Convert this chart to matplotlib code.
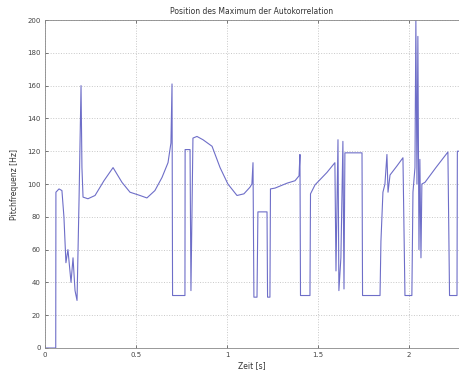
import matplotlib
matplotlib.use("Agg")
import matplotlib.pyplot as plt

title = "Position des Maximum der Autokorrelation"
xlabel = "Zeit [s]"
ylabel = "Pitchfrequenz [Hz]"

time_s = [0.000, 0.059, 0.060, 0.077, 0.093, 0.104, 0.115, 0.126, 0.143, 0.154,
          0.165, 0.176, 0.187, 0.198, 0.203, 0.209, 0.236, 0.275, 0.324, 0.374,
          0.423, 0.467, 0.522, 0.560, 0.604, 0.643, 0.676, 0.692, 0.698, 0.701,
          0.769, 0.770, 0.797, 0.802, 0.813, 0.835, 0.868, 0.918, 0.962, 1.005,
          1.055, 1.093, 1.126, 1.137, 1.143, 1.148, 1.165, 1.170, 1.220, 1.223,
          1.236, 1.239, 1.264, 1.330, 1.374, 1.396, 1.401, 1.404, 1.456, 1.459,
          1.484, 1.549, 1.593, 1.599, 1.610, 1.615, 1.626, 1.637, 1.643, 1.648,
          1.742, 1.745, 1.841, 1.846, 1.857, 1.868, 1.879, 1.885, 1.896, 1.934,
          1.967, 1.978, 2.016, 2.022, 2.033, 2.038, 2.044, 2.049, 2.055, 2.060,
          2.066, 2.071, 2.088, 2.148, 2.214, 2.223, 2.264, 2.266, 2.280]
pitch_hz = [0, 0, 95, 97, 96, 80, 52, 60, 40, 55,
            35, 29, 90, 160, 110, 92, 91, 93, 102, 110,
            101, 95, 93, 91.5, 96, 104, 113, 125, 161, 32,
            32, 121, 121, 35, 128, 129, 127, 123, 110, 100,
            93, 94, 98, 100, 113, 31, 31, 83, 83, 31,
            31, 97, 97.5, 100.5, 102, 105, 118, 32, 32, 94,
            99.5, 107, 113, 47, 127, 35, 55, 126, 36, 119,
            119, 32, 32, 65, 95, 100, 118, 95, 105.5, 111,
            116, 32, 32, 95, 110, 200, 100, 190, 60, 115,
            55, 100, 101, 110, 119.5, 32, 32, 120, 120]

xticks = [0, 0.5, 1, 1.5, 2]
xtick_labels = ["0", "0.5", "1", "1.5", "2"]
yticks = list(range(0, 201, 20))

fig = plt.figure(figsize=(4.59, 3.78), dpi=100)
ax = fig.add_axes([45/459, 30/378, 414/459, 328/378])
ax.plot(time_s, pitch_hz, color="#6e6ec8", lw=0.8)
ax.set_xlim(0, 2.275)
ax.set_ylim(0, 200)
ax.set_xticks(xticks)
ax.set_xticklabels(xtick_labels)
ax.set_yticks(yticks)
ax.grid(True, color="#c8c8c8", linestyle=":", linewidth=0.7)
ax.tick_params(labelsize=5, colors="#444444", length=2.5, width=0.5, direction="in",
               top=True, pad=3)
for s in ax.spines.values():
    s.set_color("#888888")
    s.set_linewidth(0.6)
ax.spines["right"].set_visible(False)
ax.set_title(title, fontsize=5.5, color="#333333", pad=4)
ax.set_xlabel(xlabel, fontsize=5.5, color="#333333", labelpad=2)
ax.set_ylabel(ylabel, fontsize=5.5, color="#333333", labelpad=6)
fig.savefig("out.png", dpi=100)
